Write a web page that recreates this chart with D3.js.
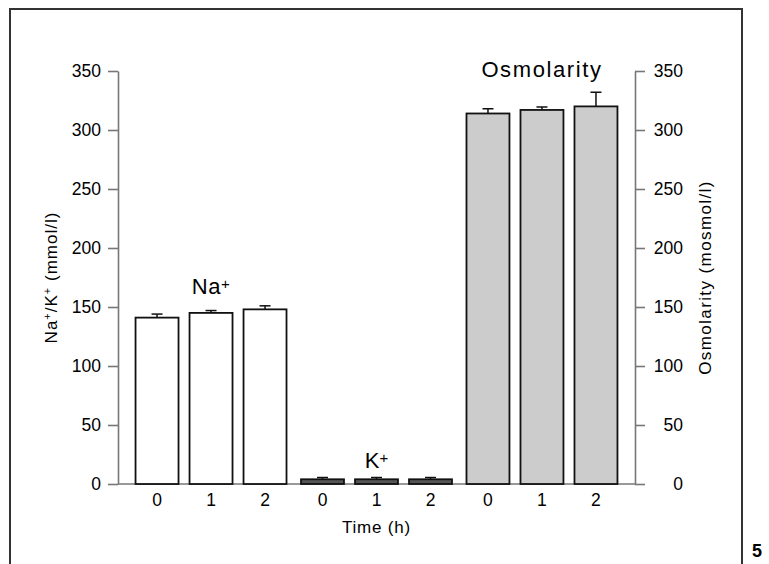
<!DOCTYPE html>
<html>
<head>
<meta charset="utf-8">
<script src="https://cdn.jsdelivr.net/npm/d3@7"></script>
<style>
  body { margin: 0; background: #fff; }
  svg { display: block; font-family: "Liberation Sans", Arial, sans-serif; }
</style>
</head>
<body>
<div class="chart"></div>
<script>
// values
var groups = ["Na", "K", "Osm"];
var times = ["0", "1", "2"];
var naValues = [141, 145, 148];
var naErrors = [3, 2, 3];
var kValues = [4, 4, 4];
var kErrors = [1.5, 1.5, 1.5];
var osmValues = [314, 317, 320];
var osmErrors = [4, 2.5, 12];
var yTicks = [0, 50, 100, 150, 200, 250, 300, 350];

var svgWidth = 769;
var svgHeight = 564;

var margin = {
  top: 71,
  right: 134,
  bottom: 80,
  left: 118
};

var width = svgWidth - margin.left - margin.right;
var height = svgHeight - margin.top - margin.bottom;

var svg = d3.select(".chart")
  .append("svg")
  .attr("width", svgWidth)
  .attr("height", svgHeight);

// frame round the figure panel
svg.append("path")
  .attr("d", "M10,564 V9 H742 V564")
  .attr("fill", "none")
  .attr("stroke", "#333")
  .attr("stroke-width", 2);

// page number, sits in the bottom corner
svg.append("text")
  .attr("x", 752)
  .attr("y", 557)
  .style("font-size", "18px")
  .style("font-weight", "bold")
  .text("5");

var chartGroup = svg.append("g")
  .attr("transform", `translate(${margin.left}, ${margin.top})`);

var fills = { Na: "#ffffff", K: "#555555", Osm: "#cccccc" };
var valueSets = { Na: naValues, K: kValues, Osm: osmValues };
var errorSets = { Na: naErrors, K: kErrors, Osm: osmErrors };

var data = [];
groups.forEach(function(g) {
  times.forEach(function(t, i) {
    data.push({ group: g, time: t, value: valueSets[g][i], err: errorSets[g][i] });
  });
});

// scales
var x0 = d3.scaleBand().domain(groups).range([0, width]).paddingInner(0.0876).paddingOuter(0.106);
var x1 = d3.scaleBand().domain(times).range([0, x0.bandwidth()]).paddingInner(0.204).paddingOuter(0);
var yLinearScale = d3.scaleLinear().domain([0, 350]).range([height, 0]);

// axes
var leftAxis = d3.axisLeft(yLinearScale).tickValues(yTicks).tickSize(10).tickSizeOuter(0).tickPadding(7);
var rightAxis = d3.axisRight(yLinearScale).tickValues(yTicks).tickSize(10).tickSizeOuter(0);

var left = chartGroup.append("g").call(leftAxis);
var right = chartGroup.append("g")
  .attr("transform", `translate(${width},0)`)
  .call(rightAxis);

right.selectAll("text")
  .attr("x", 48)
  .attr("text-anchor", "end");

[left, right].forEach(function(ax) {
  ax.selectAll("path, line").attr("stroke", "#777").attr("stroke-width", 1.6);
  ax.selectAll("text").style("font-size", "17.5px").attr("fill", "#000");
});

// baseline
chartGroup.append("line")
  .attr("x1", 0)
  .attr("x2", width)
  .attr("y1", height)
  .attr("y2", height)
  .attr("stroke", "#777")
  .attr("stroke-width", 1.6);

// time labels under each group
groups.forEach(function(g) {
  var ax = chartGroup.append("g")
    .attr("transform", `translate(${x0(g)},${height})`)
    .call(d3.axisBottom(x1).tickSize(0).tickPadding(10));
  ax.select(".domain").remove();
  ax.selectAll("text").style("font-size", "17.5px").attr("fill", "#000");
});

// bars
chartGroup.selectAll("rect.bar")
  .data(data)
  .enter()
  .append("rect")
  .attr("class", "bar")
  .attr("x", d => x0(d.group) + x1(d.time))
  .attr("y", d => yLinearScale(d.value))
  .attr("width", x1.bandwidth())
  .attr("height", d => height - yLinearScale(d.value))
  .attr("fill", d => fills[d.group])
  .attr("stroke", "#111")
  .attr("stroke-width", 1.8);

// error bars, upward only
var errGroup = chartGroup.selectAll("g.err")
  .data(data)
  .enter()
  .append("g")
  .attr("class", "err")
  .attr("stroke", "#111")
  .attr("stroke-width", 1.5);

errGroup.append("line")
  .attr("x1", d => x0(d.group) + x1(d.time) + x1.bandwidth() / 2)
  .attr("x2", d => x0(d.group) + x1(d.time) + x1.bandwidth() / 2)
  .attr("y1", d => yLinearScale(d.value))
  .attr("y2", d => yLinearScale(d.value + d.err));

errGroup.append("line")
  .attr("x1", d => x0(d.group) + x1(d.time) + x1.bandwidth() / 2 - 5.5)
  .attr("x2", d => x0(d.group) + x1(d.time) + x1.bandwidth() / 2 + 5.5)
  .attr("y1", d => yLinearScale(d.value + d.err))
  .attr("y2", d => yLinearScale(d.value + d.err));

// group labels
var naLabel = chartGroup.append("text")
  .attr("x", x0("Na") + x0.bandwidth() / 2)
  .attr("y", yLinearScale(d3.max(naValues)) - 15)
  .attr("text-anchor", "middle")
  .style("font-size", "22px")
  .style("letter-spacing", "0.5px");
naLabel.append("tspan").text("Na");
naLabel.append("tspan").attr("dy", -5).style("font-size", "15px").text("+");

var kLabel = chartGroup.append("text")
  .attr("x", x0("K") + x0.bandwidth() / 2)
  .attr("y", yLinearScale(0) - 16)
  .attr("text-anchor", "middle")
  .style("font-size", "22px");
kLabel.append("tspan").text("K");
kLabel.append("tspan").attr("dy", -5).style("font-size", "15px").text("+");

chartGroup.append("text")
  .attr("x", x0("Osm") + x0.bandwidth() / 2)
  .attr("y", 6)
  .attr("text-anchor", "middle")
  .style("font-size", "22px")
  .style("letter-spacing", "1.6px")
  .text("Osmolarity");

// axis titles
var yTitle = chartGroup.append("text")
  .attr("transform", "rotate(-90)")
  .attr("x", 0 - height / 2)
  .attr("y", 0 - margin.left + 57)
  .attr("text-anchor", "middle")
  .style("font-size", "17px")
  .style("letter-spacing", "1px");
yTitle.append("tspan").text("Na");
yTitle.append("tspan").attr("dy", -6).style("font-size", "11px").text("+");
yTitle.append("tspan").attr("dy", 6).text("/K");
yTitle.append("tspan").attr("dy", -6).style("font-size", "11px").text("+");
yTitle.append("tspan").attr("dy", 6).text(" (mmol/l)");

chartGroup.append("text")
  .attr("transform", "rotate(-90)")
  .attr("x", 0 - height / 2)
  .attr("y", width + 76)
  .attr("text-anchor", "middle")
  .style("font-size", "17px")
  .style("letter-spacing", "1.4px")
  .text("Osmolarity (mosmol/l)");

chartGroup.append("text")
  .attr("x", x0("K") + x0.bandwidth() / 2)
  .attr("y", height + 49)
  .attr("text-anchor", "middle")
  .style("font-size", "17px")
  .style("letter-spacing", "0.8px")
  .text("Time (h)");
</script>
</body>
</html>
